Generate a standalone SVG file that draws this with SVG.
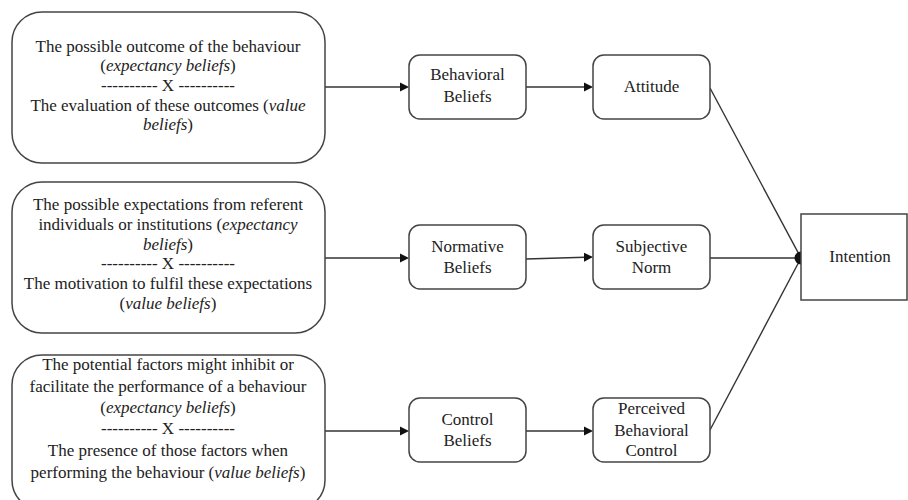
<svg xmlns="http://www.w3.org/2000/svg" width="908" height="500" viewBox="0 0 908 500">
<rect width="908" height="500" fill="#fff"/>
<g id="connectors" stroke="#333" stroke-width="1.4" fill="none">
<line x1="325" y1="87" x2="401" y2="87"/>
<line x1="526" y1="87" x2="585" y2="87"/>
<line x1="325" y1="258" x2="401" y2="258"/>
<line x1="526" y1="259" x2="585" y2="257.2"/>
<line x1="325" y1="431" x2="401" y2="431"/>
<line x1="526" y1="431" x2="585" y2="431"/>
<line x1="710" y1="88" x2="801" y2="258"/>
<line x1="710" y1="258" x2="801" y2="258"/>
<line x1="710" y1="430" x2="801" y2="258"/>
<g fill="#111" stroke="none">
<polygon points="400,82.5 409,87 400,91.5"/>
<polygon points="584,82.5 593,87 584,91.5"/>
<polygon points="400,253.5 409,258 400,262.5"/>
<polygon points="584,252.8 593,257 584,261.8"/>
<polygon points="400,426.5 409,431 400,435.5"/>
<polygon points="584,426.5 593,431 584,435.5"/>
<path d="M801,251.5 A6.5,6.5 0 0 0 801,264.5 Z"/>
</g>
</g>
<g font-family="'Liberation Serif', serif" font-size="17" text-anchor="middle">
<g fill="#fff" stroke="#444" stroke-width="1.5">
<rect id="box1-shape" x="12" y="12" width="313" height="151" rx="30"/>
<rect id="box2-shape" x="12" y="182" width="313" height="151" rx="30"/>
<rect id="box3-shape" x="12" y="355" width="313" height="155" rx="30"/>
<rect id="behavioral-beliefs-shape" x="409" y="55" width="117" height="64" rx="11"/>
<rect id="attitude-shape" x="593" y="55" width="117" height="64" rx="11"/>
<rect id="normative-beliefs-shape" x="409" y="225" width="117" height="64" rx="11"/>
<rect id="subjective-norm-shape" x="593" y="225" width="117" height="64" rx="11"/>
<rect id="control-beliefs-shape" x="409" y="398" width="117" height="64" rx="11"/>
<rect id="pbc-shape" x="593" y="398" width="117" height="64" rx="11"/>
<rect id="intention-shape" x="801" y="214" width="106" height="86"/>
</g>
<g fill="#222">
<g id="box1">
<text x="168" y="52">The possible outcome of the behaviour</text>
<text x="168" y="71">(<tspan font-style="italic">expectancy beliefs</tspan>)</text>
<text x="168" y="91">---------- X ----------</text>
<text x="168" y="111">The evaluation of these outcomes (<tspan font-style="italic">value</tspan></text>
<text x="168" y="130"><tspan font-style="italic">beliefs</tspan>)</text>
</g>
<g id="box2">
<text x="168" y="210">The possible expectations from referent</text>
<text x="168" y="230">individuals or institutions (<tspan font-style="italic">expectancy</tspan></text>
<text x="168" y="250"><tspan font-style="italic">beliefs</tspan>)</text>
<text x="168" y="269">---------- X ----------</text>
<text x="168" y="289">The motivation to fulfil these expectations</text>
<text x="168" y="309">(<tspan font-style="italic">value beliefs</tspan>)</text>
</g>
<g id="box3">
<text x="168" y="370">The potential factors might inhibit or</text>
<text x="168" y="392">facilitate the performance of a behaviour</text>
<text x="168" y="413">(<tspan font-style="italic">expectancy beliefs</tspan>)</text>
<text x="168" y="434">---------- X ----------</text>
<text x="168" y="456">The presence of those factors when</text>
<text x="168" y="478">performing the behaviour (<tspan font-style="italic">value beliefs</tspan>)</text>
</g>
<g id="behavioral-beliefs">
<text x="467.5" y="80">Behavioral</text>
<text x="467.5" y="102">Beliefs</text>
</g>
<g id="attitude">
<text x="651.5" y="92">Attitude</text>
</g>
<g id="normative-beliefs">
<text x="467.5" y="252">Normative</text>
<text x="467.5" y="273">Beliefs</text>
</g>
<g id="subjective-norm">
<text x="651.5" y="252">Subjective</text>
<text x="651.5" y="273">Norm</text>
</g>
<g id="control-beliefs">
<text x="467.5" y="425">Control</text>
<text x="467.5" y="446">Beliefs</text>
</g>
<g id="perceived-behavioral-control">
<text x="651.5" y="414">Perceived</text>
<text x="651.5" y="436">Behavioral</text>
<text x="651.5" y="456">Control</text>
</g>
<g id="intention">
<text x="860" y="262">Intention</text>
</g>
</g>
</g>
</svg>
